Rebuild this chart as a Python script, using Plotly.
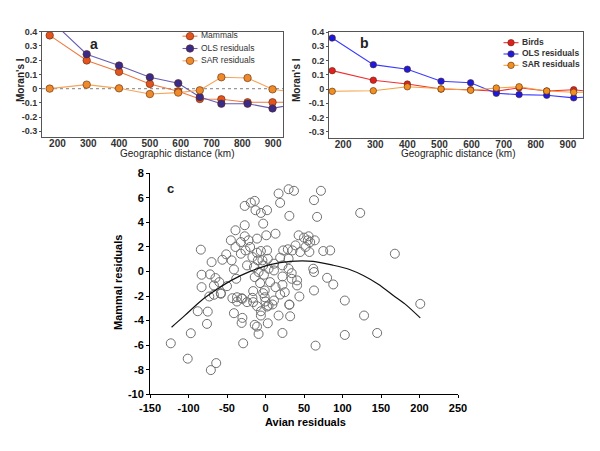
import plotly.graph_objects as go

# ---------------- data ----------------
dist_a = [175, 295, 400, 500, 592, 662, 732, 817, 898, 985]
mammals = [0.374, 0.198, 0.118, 0.033, -0.019, -0.073, -0.075, -0.096, -0.096, -0.096]
ols_a = [0.487, 0.242, 0.162, 0.080, 0.038, -0.059, -0.106, -0.106, -0.139, -0.103]
sar_a = [0.0, 0.028, 0.002, -0.038, -0.028, -0.012, 0.080, 0.075, -0.005, -0.030]

dist_b = [166, 294, 400, 505, 597, 677, 748, 834, 918, 1000]
birds = [0.129, 0.062, 0.035, 0.0, -0.005, -0.016, 0.009, -0.014, -0.005, -0.025]
ols_b = [0.358, 0.171, 0.139, 0.055, 0.044, -0.030, -0.039, -0.044, -0.062, -0.050]
sar_b = [-0.016, -0.012, 0.016, 0.0, -0.009, 0.007, 0.016, -0.014, -0.023, -0.023]

names_a = ["Mammals", "OLS residuals", "SAR residuals"]
names_b = ["Birds", "OLS residuals", "SAR residuals"]

moran_ticks = [-0.3, -0.2, -0.1, 0, 0.1, 0.2, 0.3, 0.4]
moran_ticktext = ["-0.3", "-0.2", "-0.1", "0", "0.1", "0.2", "0.3", "0.4"]
dist_ticks = [200, 300, 400, 500, 600, 700, 800, 900]

avian = [-84, -83, -83, -70, -72, -65, -67, -60, -58, -67, -56, -51, -50, -45, -44, -43,
         -39, -39, -41, -38, -37, -32, -32, -30, -27, -27, -27, -26, -24, -24, -22, -20,
         -19, -14, -13, -17, -15, -14, -16, -16, -11, -11, -10, -9, -7, -6, -3, -6,
         -4, -3, -2, -1, -1, 2, 1, 2, 3, 4, 6, 4, 13, 11, 11, 13, 11, 17, 19, 19, 22,
         22, 23, 19, 22, 30, 37, 31, 29, 30, 30, 31, 34, 35, 39, 34, 41, 41, 43, 45, 44,
         50, 52, 55, 56, 57, 58, 63, 64, 62, 63, 63, 67, 72, 75, 84, 80, 88, 103, 123, 168,
         -73, -58, -88, -75, -76, -97, -123, -101, -71, -64, -37, -31, -41, -30, -31, -29,
         -17, -11, -6, -6, -14, -11, -9, 3, -3, 0, 2, 9, 17, 32, 22, 25, 31, 65, 103, 128,
         145, 201]
mammal = [1.77, -0.27, -1.28, 0.76, -0.24, -0.54, -1.14, -0.87, -1.82, -1.90, 0.95, 1.39,
          -1.20, 2.53, 0.90, -2.18, 3.35, 1.99, 0.16, -0.60, -2.10, 2.39, 1.44, -2.23, 5.33,
          3.76, 2.86, 1.71, 0.49, -2.50, 2.53, 1.99, 5.60, 5.74, 4.98, 1.17, 0.35, -0.46,
          -1.60, -2.50, 2.67, 1.52, 0.90, -0.05, -0.95, 4.76, 3.89, 1.66, 0.90, 0.49, -0.27,
          -1.55, -2.10, 4.98, 2.94, 1.71, 1.03, 0.22, -0.87, -2.78, 3.07, 0.63, 0.08, -1.28,
          -2.37, 6.34, 5.58, 1.12, 0.49, -0.41, 1.71, -1.88, -1.09, 6.69, 6.56, 4.52, 1.80,
          1.03, 0.22, -2.72, -0.14, 1.71, 2.12, -0.60, -0.73, -1.14, 2.94, 1.58, -2.04, 2.75,
          1.99, 2.53, 2.86, 1.58, 2.39, 5.80, 2.53, 0.22, -0.05, -1.55, 4.44, 6.56, 1.66,
          1.71, -0.52, -1.06, -2.37, 4.76, 1.44,
          -2.04, -1.77, -3.24, -3.27, -4.27, -5.03, -5.85, -7.10, -8.03, -7.46, -2.45, -2.18,
          -3.40, -3.78, -4.19, -5.85, -2.15, -2.83, -3.59, -3.24, -4.35, -4.49, -5.09, -4.22,
          -1.77, -2.45, -2.86, -2.69, -3.59, -3.65, -5.01, -1.69, -2.69, -6.04, -5.17, -3.59,
          -5.01, -2.64]

curve_x = [-122, -105, -84, -62, -45, -20, 6, 32, 62, 88, 110, 127, 147, 166, 181, 201]
curve_y = [-4.54, -3.60, -2.40, -1.42, -0.75, 0.0, 0.55, 0.82, 0.82, 0.50, 0.14, -0.33,
           -1.06, -1.96, -2.64, -3.78]

c_xticks = [-150, -100, -50, 0, 50, 100, 150, 200, 250]
c_xticktext = ["-150", "-100", "-50", "0", "50", "100", "150", "200", "250"]
c_yticks = [-10, -8, -6, -4, -2, 0, 2, 4, 6, 8]
c_yticktext = ["-10", "-8", "-6", "-4", "-2", "0", "2", "4", "6", "8"]

# ---------------- figure ----------------
FONT = "Liberation Sans, Arial, sans-serif"
NARROW = "Liberation Sans Narrow, Arial Narrow, Liberation Sans, sans-serif"
OFF = 8                      # default page body margin
W, H = 600 - OFF, 451 - OFF


def px_x(p):
    return (p - OFF) / W


def px_y(p):
    return 1 - (p - OFF) / H


fig = go.Figure()

style_a = [("#e4541c", "#f07840"), ("#3a2a8a", "#6a5cb0"), ("#ee8a2a", "#f4a55a")]
style_b = [("#e02020", "#f03030"), ("#1a1ae0", "#3a3aff"), ("#f09020", "#f4a040")]


def series(x, y, name, mcol, lcol, xa, ya, size):
    fig.add_trace(go.Scatter(
        x=x, y=y, name=name, mode="lines+markers", showlegend=False,
        line=dict(color=lcol, width=1.1),
        marker=dict(color=mcol, size=size, line=dict(color="#5a2a10", width=0.6)),
        xaxis=xa, yaxis=ya))


for vals, nm, st in zip([mammals, ols_a, sar_a], names_a, style_a):
    series(dist_a, vals, nm, st[0], st[1], "x", "y", 7.5)
for vals, nm, st in zip([birds, ols_b, sar_b], names_b, style_b):
    series(dist_b, vals, nm, st[0], st[1], "x2", "y2", 6.5)

fig.add_trace(go.Scatter(
    x=avian, y=mammal, mode="markers", showlegend=False,
    marker=dict(symbol="circle-open", size=9, color="#707070", line=dict(width=1)),
    xaxis="x3", yaxis="y3"))
fig.add_trace(go.Scatter(
    x=curve_x, y=curve_y, mode="lines", showlegend=False,
    line=dict(color="#111111", width=1.2, shape="spline", smoothing=0.8),
    xaxis="x3", yaxis="y3"))


# compact legends drawn on hidden category axes (x4/y4 for a, x5/y5 for b)
def legend_block(names, styles, xa, ya, size, bold):
    for nm, st in zip(names, styles):
        fig.add_trace(go.Scatter(
            x=[-0.75, 0.75], y=[nm, nm], mode="lines", showlegend=False,
            line=dict(color=st[1], width=1.1), xaxis=xa, yaxis=ya, hoverinfo="skip"))
        fig.add_trace(go.Scatter(
            x=[0], y=[nm], mode="markers", showlegend=False,
            marker=dict(color=st[0], size=size, line=dict(color="#5a2a10", width=0.6)),
            xaxis=xa, yaxis=ya, hoverinfo="skip"))
    fig.add_trace(go.Scatter(
        x=[1.1] * len(names), y=names, mode="text", text=names,
        textposition="middle right", showlegend=False, cliponaxis=False,
        textfont=dict(family=FONT, size=8.5, color="#333333",
                      weight="bold" if bold else "normal"),
        xaxis=xa, yaxis=ya, hoverinfo="skip"))


legend_block(names_a, style_a, "x4", "y4", 7.5, False)
legend_block(names_b, style_b, "x5", "y5", 6.5, True)

# dotted zero reference line in panel a
fig.add_shape(type="line", xref="x domain", yref="y", x0=0, x1=1, y0=0, y1=0,
              line=dict(color="#999999", width=1.2, dash="dot"), layer="below")

ab_axis = dict(showline=True, mirror=True, linecolor="#555555", linewidth=1,
               showgrid=False, zeroline=False, automargin=False)
ab_x = dict(ticks="", ticklabelstandoff=-3,
            tickfont=dict(family=FONT, size=10, color="#333333", weight="bold"))
ab_y = dict(ticks="outside", ticklen=2, tickcolor="#555555",
            tickfont=dict(family=NARROW, size=9, color="#333333", weight="bold"))
c_axis = dict(showline=True, linecolor="black", linewidth=1, showgrid=False,
              zeroline=False, ticks="outside", ticklen=3, tickcolor="black",
              automargin=False,
              tickfont=dict(family=FONT, size=11, color="black", weight="bold"))
hidden = dict(visible=False, showgrid=False, zeroline=False, automargin=False,
              fixedrange=True)

fig.update_layout(
    width=W, height=H, margin=dict(l=0, r=0, t=0, b=0, autoexpand=False),
    plot_bgcolor="rgba(0,0,0,0)", paper_bgcolor="white", showlegend=False,
    xaxis=dict(domain=[px_x(42), px_x(283)], range=[150, 932], tickvals=dist_ticks,
               anchor="y", **ab_axis, **ab_x),
    yaxis=dict(domain=[px_y(137), px_y(31.7)], range=[-0.34, 0.4], tickvals=moran_ticks,
               ticktext=moran_ticktext, anchor="x", **ab_axis, **ab_y),
    xaxis2=dict(domain=[px_x(329), px_x(583)], range=[156, 947], tickvals=dist_ticks,
                anchor="y2", **ab_axis, **ab_x),
    yaxis2=dict(domain=[px_y(137.5), px_y(32)], range=[-0.34, 0.4], tickvals=moran_ticks,
                ticktext=moran_ticktext, anchor="x2", **ab_axis, **ab_y),
    xaxis3=dict(domain=[px_x(150), px_x(458)], range=[-150, 250], tickvals=c_xticks,
                ticktext=c_xticktext, anchor="y3", **c_axis),
    yaxis3=dict(domain=[px_y(394.3), px_y(172.5)], range=[-10, 8.05], tickvals=c_yticks,
                ticktext=c_yticktext, anchor="x3", **c_axis),
    xaxis4=dict(domain=[px_x(180), px_x(300)], range=[-1, 11], anchor="y4", **hidden),
    yaxis4=dict(domain=[px_y(67), px_y(30)], range=[2.5, -0.5], type="category",
                categoryarray=names_a, anchor="x4", **hidden),
    xaxis5=dict(domain=[px_x(501), px_x(600)], range=[-1, 8.9], anchor="y5", **hidden),
    yaxis5=dict(domain=[px_y(71), px_y(37)], range=[2.5, -0.5], type="category",
                categoryarray=names_b, anchor="x5", **hidden),
)

ann_font = dict(family=FONT, color="#222222", weight="bold")
annotations = [
    dict(text="a", x=px_x(94), y=px_y(44), font=dict(size=14, **ann_font)),
    dict(text="b", x=px_x(364), y=px_y(43), font=dict(size=14, **ann_font)),
    dict(text="c", x=px_x(170), y=px_y(189), font=dict(size=13, **ann_font)),
    dict(text="Geographic distance (km)", x=px_x(177), y=px_y(153),
         font=dict(size=10, family=FONT, color="#222222")),
    dict(text="Geographic distance (km)", x=px_x(458), y=px_y(153),
         font=dict(size=10, family=FONT, color="#222222")),
    dict(text="Moran's I", x=px_x(20), y=px_y(80), textangle=-90,
         font=dict(size=10, **ann_font)),
    dict(text="Moran's I", x=px_x(296), y=px_y(80), textangle=-90,
         font=dict(size=10, **ann_font)),
    dict(text="Mammal residuals", x=px_x(118), y=px_y(283), textangle=-90,
         font=dict(size=11, family=FONT, color="black", weight="bold")),
    dict(text="Avian residuals", x=px_x(305), y=px_y(422),
         font=dict(size=11, family=FONT, color="black", weight="bold")),
]
for a in annotations:
    a.update(xref="paper", yref="paper", showarrow=False, xanchor="center", yanchor="middle")
    fig.add_annotation(**a)

fig.write_html("out.html")
